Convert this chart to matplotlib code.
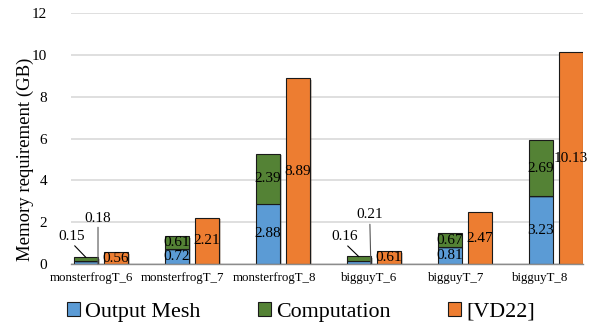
import matplotlib
matplotlib.use("Agg")
import matplotlib.pyplot as plt
import matplotlib.patheffects as pe
import numpy as np

categories = ["monsterfrogT_6", "monsterfrogT_7", "monsterfrogT_8",
              "bigguyT_6", "bigguyT_7", "bigguyT_8"]
output_mesh = [0.15, 0.72, 2.88, 0.16, 0.81, 3.23]
computation = [0.18, 0.61, 2.39, 0.21, 0.67, 2.69]
vd22 = [0.56, 2.21, 8.89, 0.61, 2.47, 10.13]
yticks = [0, 2, 4, 6, 8, 10, 12]
label_shift = [-0.10, -0.10, -0.09, -0.055, -0.10, -0.175]

plt.rcParams['font.family'] = ['Liberation Serif', 'DejaVu Serif']

fig = plt.figure(figsize=(6.03, 3.26), dpi=100)
ax = fig.add_axes([71/603, 1-264/326, 512/603, 251/326])

x = np.arange(len(categories))
w = 0.264
off = 0.165
c_blue, c_green, c_orange = '#5B9BD5', '#548235', '#ED7D31'
shadow = [pe.SimplePatchShadow(offset=(1.2, -1.2), alpha=0.25), pe.Normal()]

b1 = ax.bar(x - off, output_mesh, w, color=c_blue, edgecolor='#1a1a1a', lw=0.8,
            label='Output Mesh', zorder=3)
b2 = ax.bar(x - off, computation, w, bottom=output_mesh, color=c_green,
            edgecolor='#1a1a1a', lw=0.8, label='Computation', zorder=3)
b3 = ax.bar(x + off, vd22, w, color=c_orange, edgecolor='#1a1a1a', lw=0.8,
            label='[VD22]', zorder=3)
for bars in (b1, b2, b3):
    for p in bars:
        p.set_path_effects(shadow)

fs = 11
small = {0, 3}
for i in range(len(categories)):
    if i not in small:
        ax.text(x[i] - off, output_mesh[i] / 2, f"{output_mesh[i]:.2f}",
                ha='center', va='center', fontsize=fs, zorder=5)
        ax.text(x[i] - off, output_mesh[i] + computation[i] / 2,
                f"{computation[i]:.2f}", ha='center', va='center', fontsize=fs, zorder=5)
    ax.text(x[i] + off, vd22[i] / 2, f"{vd22[i]:.2f}", ha='center', va='center',
            fontsize=fs, zorder=5)

# leader-line labels for tiny stacks
leader = {0: ((-14, 21), (0, 46)), 3: ((-14, 20), (-1, 49))}
for i, ((dx1, dy1), (dx2, dy2)) in leader.items():
    tot = output_mesh[i] + computation[i]
    ax.annotate(f"{output_mesh[i]:.2f}", xy=(x[i] - off, tot - 0.02),
                xytext=(dx1, dy1), textcoords='offset pixels', ha='center',
                va='center', fontsize=fs, zorder=5,
                arrowprops=dict(arrowstyle='-', color='black', lw=0.8,
                                shrinkA=0, shrinkB=0, relpos=(0.5, 0)))
    ax.annotate(f"{computation[i]:.2f}", xy=(x[i] - off + w / 2, 0),
                xytext=(dx2, dy2), textcoords='offset pixels', ha='center',
                va='center', fontsize=fs, zorder=5,
                arrowprops=dict(arrowstyle='-', color='#555555', lw=0.8,
                                shrinkA=0, shrinkB=0, relpos=(0.5, 0)))

ax.set_ylim(0, 12)
ax.set_xlim(-0.33, 5.30)
ax.set_yticks(yticks)
ax.set_yticklabels([str(t) for t in yticks], fontsize=11)
ax.set_xticks(x + np.array(label_shift))
ax.set_xticklabels(categories, fontsize=9.3)
ax.tick_params(axis='both', length=0)
ax.tick_params(axis='y', pad=17)
ax.tick_params(axis='x', pad=6)
ax.grid(axis='y', color='#d9d9d9', lw=1.2, zorder=0)
for s in ['top', 'right', 'left']:
    ax.spines[s].set_visible(False)
ax.spines['bottom'].set_color('#8c8c8c')
ax.spines['bottom'].set_linewidth(1.0)
ax.spines['bottom'].set_zorder(4)
ax.set_ylabel('Memory requirement (GB)', fontsize=13.5)
ax.yaxis.set_label_coords(-(71 - 34) / 512, (264 - 159) / 251)

leg = fig.legend(handles=[b1, b2, b3], loc='center', ncol=3,
                 bbox_to_anchor=(301/603, 1 - 312/326), frameon=False,
                 fontsize=15.8, handlelength=0.6, handleheight=0.6,
                 handletextpad=0.25, columnspacing=2.6, borderpad=0)
for h in leg.legend_handles:
    h.set_path_effects([])

fig.savefig('out.png', dpi=100)
